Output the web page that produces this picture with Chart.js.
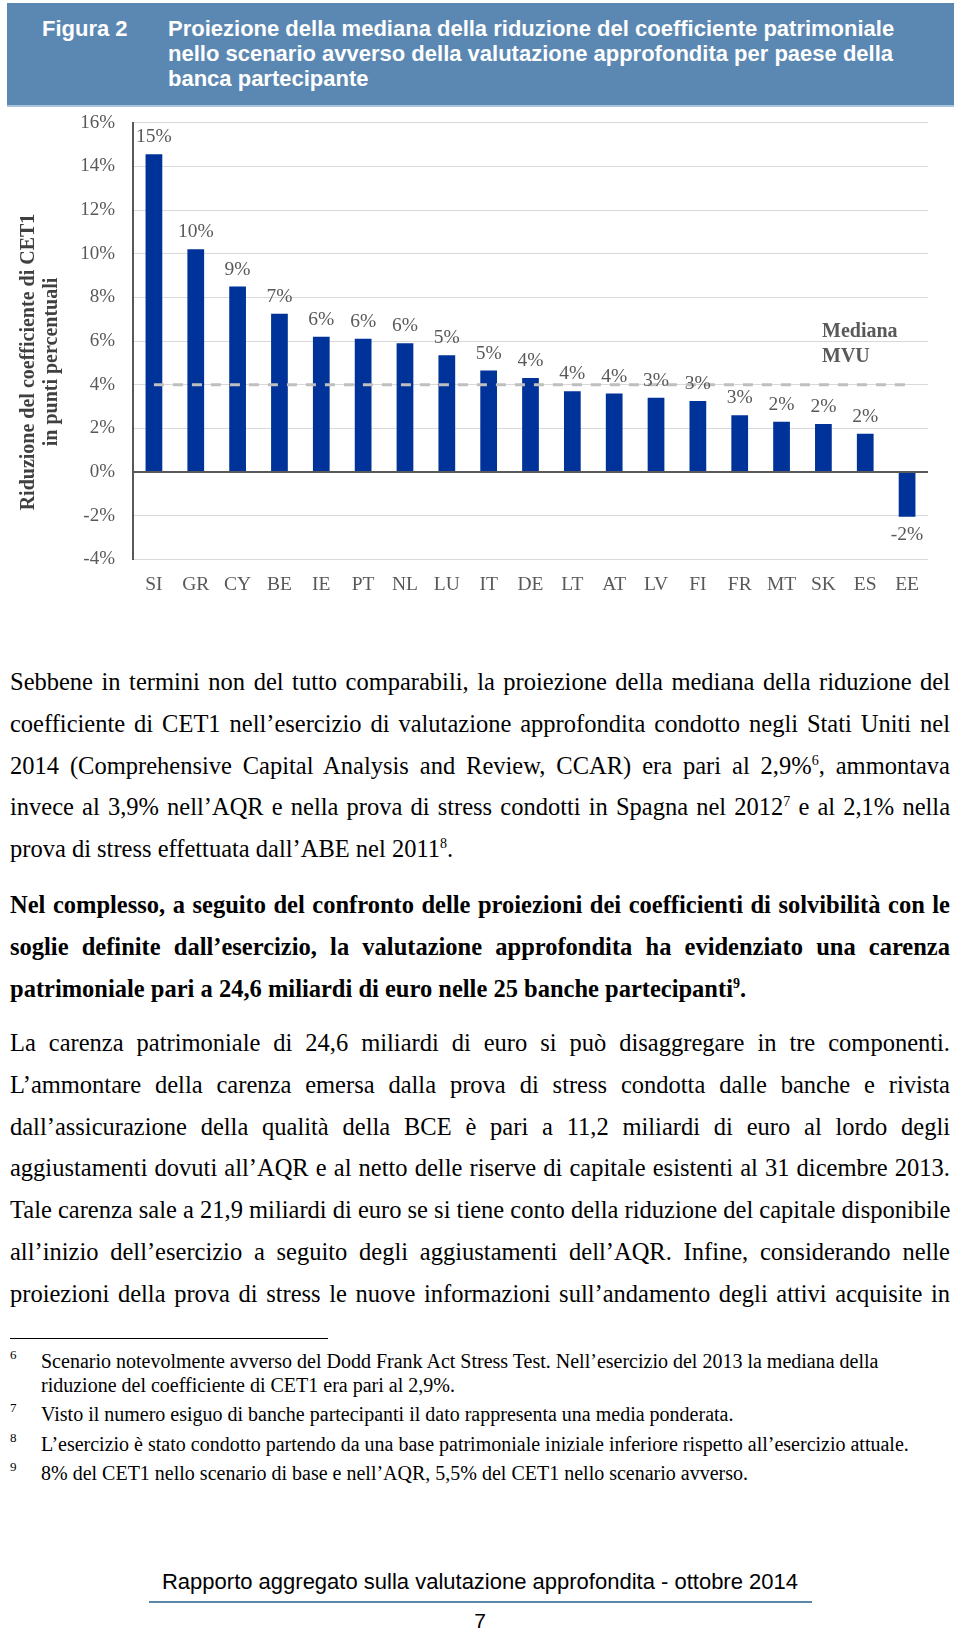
<!DOCTYPE html>
<html>
<head>
<meta charset="utf-8">
<script src="https://cdn.jsdelivr.net/npm/chart.js@4.4.1/dist/chart.umd.min.js"></script>
<style>
  body { margin: 0; background: #fff; }
  #page { position: relative; width: 960px; height: 1630px; overflow: hidden; font-family: "Liberation Serif", serif; color: #000; }
  #header { position: absolute; left: 7px; top: 3px; width: 947px; height: 102px; background: #5b88b2; border-bottom: 2px solid #a9c3dc; }
  #header .lbl, #header .ttl { position: absolute; top: 13px; font-family: "Liberation Sans", Arial, sans-serif; font-weight: bold; font-size: 22px; line-height: 25px; color: #fff; }
  #header .lbl { left: 35px; }
  #header .ttl { left: 161px; }
  #chartBox { position: absolute; left: 0; top: 110px; width: 960px; height: 500px; }
  .para { position: absolute; left: 10px; width: 940px; font-size: 24.5px; }
  .para div { height: 41.8px; line-height: 41.8px; text-align: justify; text-align-last: justify; white-space: nowrap; }
  .para div.last { text-align-last: left; }
  .para sup { font-size: 14px; line-height: 0; vertical-align: 9px; }
  .bold { font-weight: bold; }
  #sep { position: absolute; left: 10px; top: 1338px; width: 318px; height: 1px; background: #000; }
  .fn { position: absolute; left: 10px; width: 940px; font-size: 20px; line-height: 24px; }
  .fn .n { position: absolute; left: 0; top: -6px; font-size: 13px; }
  .fn .t { margin-left: 31px; }
  #footer { position: absolute; left: 0; width: 960px; top: 1569px; text-align: center; font-family: "Liberation Sans", Arial, sans-serif; font-size: 22px; }
  #footLine { position: absolute; left: 149px; top: 1601px; width: 663px; height: 2px; background: #5b88a8; }
  #pageNo { position: absolute; left: 0; width: 960px; top: 1609px; text-align: center; font-family: "Liberation Sans", Arial, sans-serif; font-size: 21px; }
</style>
</head>
<body>
<div id="page">
  <div id="header">
    <div class="lbl">Figura 2</div>
    <div class="ttl">Proiezione della mediana della riduzione del coefficiente patrimoniale<br>nello scenario avverso della valutazione approfondita per paese della<br>banca partecipante</div>
  </div>

  <div id="chartBox"><canvas id="chart" width="960" height="500"></canvas></div>

  <div class="para" style="top:661px">
    <div>Sebbene in termini non del tutto comparabili, la proiezione della mediana della riduzione del</div>
    <div>coefficiente di CET1 nell’esercizio di valutazione approfondita condotto negli Stati Uniti nel</div>
    <div>2014 (Comprehensive Capital Analysis and Review, CCAR) era pari al 2,9%<sup>6</sup>, ammontava</div>
    <div>invece al 3,9% nell’AQR e nella prova di stress condotti in Spagna nel 2012<sup>7</sup> e al 2,1% nella</div>
    <div class="last">prova di stress effettuata dall’ABE nel 2011<sup>8</sup>.</div>
  </div>

  <div class="para bold" style="top:884px">
    <div>Nel complesso, a seguito del confronto delle proiezioni dei coefficienti di solvibilità con le</div>
    <div>soglie definite dall’esercizio, la valutazione approfondita ha evidenziato una carenza</div>
    <div class="last">patrimoniale pari a 24,6 miliardi di euro nelle 25 banche partecipanti<sup>9</sup>.</div>
  </div>

  <div class="para" style="top:1022px">
    <div>La carenza patrimoniale di 24,6 miliardi di euro si può disaggregare in tre componenti.</div>
    <div>L’ammontare della carenza emersa dalla prova di stress condotta dalle banche e rivista</div>
    <div>dall’assicurazione della qualità della BCE è pari a 11,2 miliardi di euro al lordo degli</div>
    <div>aggiustamenti dovuti all’AQR e al netto delle riserve di capitale esistenti al 31 dicembre 2013.</div>
    <div>Tale carenza sale a 21,9 miliardi di euro se si tiene conto della riduzione del capitale disponibile</div>
    <div>all’inizio dell’esercizio a seguito degli aggiustamenti dell’AQR. Infine, considerando nelle</div>
    <div>proiezioni della prova di stress le nuove informazioni sull’andamento degli attivi acquisite in</div>
  </div>

  <div id="sep"></div>
  <div class="fn" style="top:1349px"><span class="n">6</span><div class="t">Scenario notevolmente avverso del Dodd Frank Act Stress Test. Nell’esercizio del 2013 la mediana della<br>riduzione del coefficiente di CET1 era pari al 2,9%.</div></div>
  <div class="fn" style="top:1402px"><span class="n">7</span><div class="t">Visto il numero esiguo di banche partecipanti il dato rappresenta una media ponderata.</div></div>
  <div class="fn" style="top:1432px"><span class="n">8</span><div class="t">L’esercizio è stato condotto partendo da una base patrimoniale iniziale inferiore rispetto all’esercizio attuale.</div></div>
  <div class="fn" style="top:1461px"><span class="n">9</span><div class="t">8% del CET1 nello scenario di base e nell’AQR, 5,5% del CET1 nello scenario avverso.</div></div>

  <div id="footer">Rapporto aggregato sulla valutazione approfondita - ottobre 2014</div>
  <div id="footLine"></div>
  <div id="pageNo">7</div>
</div>

<script>
// dati
const countries = ["SI", "GR", "CY", "BE", "IE", "PT", "NL", "LU", "IT", "DE", "LT", "AT", "LV", "FI", "FR", "MT", "SK", "ES", "EE"];
const cet1Drop = [14.55, 10.2, 8.5, 7.25, 6.2, 6.1, 5.9, 5.35, 4.65, 4.3, 3.7, 3.6, 3.4, 3.25, 2.6, 2.3, 2.2, 1.75, -2.05];
const medianLine = [4, 4, 4, 4, 4, 4, 4, 4, 4, 4, 4, 4, 4, 4, 4, 4, 4, 4, 4];
const yMin = -4, yMax = 16, yStep = 2;
const yTitle = ["Riduzione del coefficiente di CET1", "in punti percentuali"];
const medianText = ["Mediana", "MVU"];

const grey = "#595959";
const serif = '"Liberation Serif", "Times New Roman", serif';

const valueLabels = {
    id: "valueLabels",
    afterDatasetsDraw: function(chart){
        const ctx = chart.ctx;
        const bars = chart.getDatasetMeta(0).data;
        ctx.save();
        ctx.font = "19.5px " + serif;
        ctx.fillStyle = grey;
        ctx.textAlign = "center";
        ctx.textBaseline = "middle";
        bars.forEach(function(bar, i){
            const v = cet1Drop[i];
            const y = v >= 0 ? bar.y - 17 : bar.y + 18;
            ctx.fillText(Math.round(v) + "%", bar.x, y);
        });

        // etichetta della linea mediana
        const my = chart.scales.y.getPixelForValue(medianLine[0]);
        ctx.font = "bold 20px " + serif;
        ctx.textAlign = "left";
        ctx.fillText(medianText[0], chart.chartArea.right - 106, my - 53);
        ctx.fillText(medianText[1], chart.chartArea.right - 106, my - 28);

        // titolo asse y
        ctx.textAlign = "center";
        ctx.translate(0, 252);
        ctx.rotate(-Math.PI / 2);
        ctx.font = "bold 20px " + serif;
        ctx.fillStyle = "#404040";
        ctx.fillText(yTitle[0], 0, 29);
        ctx.fillText(yTitle[1], 0, 52);
        ctx.restore();
    }
};

new Chart(document.getElementById("chart"), {
    type: "bar",
    data: {
        labels: countries,
        datasets: [
            {
                type: "bar",
                data: cet1Drop,
                backgroundColor: "#003399",
                barPercentage: 0.4,
                categoryPercentage: 1,
                order: 1
            },
            {
                type: "line",
                data: medianLine,
                borderColor: "#bfbfbf",
                borderWidth: 3,
                borderDash: [10, 9],
                pointRadius: 0,
                fill: false,
                order: 0
            }
        ]
    },
    options: {
        responsive: false,
        animation: false,
        events: [],
        layout: { padding: { top: 12.7, right: 32, left: 0, bottom: 0 } },
        plugins: { legend: { display: false }, tooltip: { enabled: false } },
        scales: {
            x: {
                grid: { display: false },
                border: { display: false },
                ticks: { color: grey, font: { family: serif, size: 19.5 }, padding: 6, maxRotation: 0, autoSkip: false },
                afterFit: function(scale){ scale.height = 50.7; }
            },
            y: {
                min: yMin,
                max: yMax,
                ticks: {
                    stepSize: yStep,
                    color: grey,
                    font: { family: serif, size: 19 },
                    padding: 18,
                    callback: function(v){ return v + "%"; }
                },
                grid: {
                    drawTicks: false,
                    color: function(c){ return c.tick && c.tick.value === 0 ? grey : "#d9d9d9"; },
                    lineWidth: function(c){ return c.tick && c.tick.value === 0 ? 2 : 1; }
                },
                border: { display: true, color: grey, width: 2 },
                afterFit: function(scale){
                    scale.width = 133;
                    scale.paddingTop = 0;
                    scale.paddingBottom = 0;
                }
            }
        }
    },
    plugins: [valueLabels]
});
</script>
</body>
</html>
